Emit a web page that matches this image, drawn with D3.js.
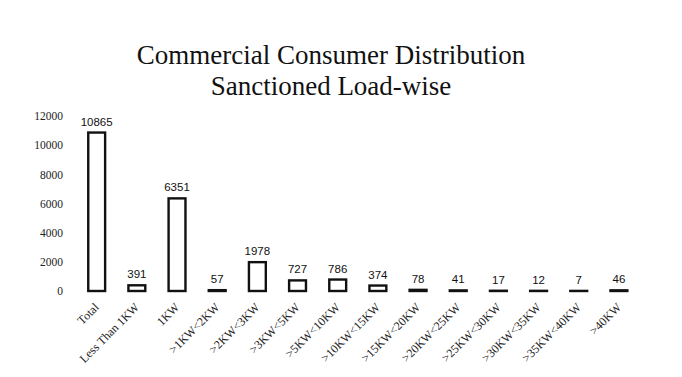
<!DOCTYPE html>
<html><head><meta charset="utf-8">
<script src="https://cdn.jsdelivr.net/npm/d3@7"></script>
<style>body{margin:0;background:#fff}svg{display:block}</style>
</head><body>
<svg id="c" width="682" height="377"></svg>
<script>
const categories = ["Total","Less Than 1KW","1KW",">1KW<2KW",">2KW<3KW",">3KW<5KW",">5KW<10KW",">10KW<15KW",">15KW<20KW",">20KW<25KW",">25KW<30KW",">30KW<35KW",">35KW<40KW",">40KW"];
const values = [10865,391,6351,57,1978,727,786,374,78,41,17,12,7,46];
const yTicks = [0,2000,4000,6000,8000,10000,12000];
const titleLines = ["Commercial Consumer Distribution","Sanctioned Load-wise"];

const svg = d3.select("#c");
const x = d3.scaleBand().domain(categories).range([76.6, 639]).paddingInner(0.58).paddingOuter(0.29);
const y = d3.scaleLinear().domain([0,12000]).range([291,116]);

svg.append("g").selectAll("text").data(titleLines).join("text")
  .attr("x",331).attr("y",(d,i)=>64+i*31).attr("text-anchor","middle")
  .attr("font-family","Liberation Serif, serif").attr("font-size",27).attr("fill","#111").text(d=>d);

const ya = svg.append("g").attr("transform","translate(67,0)")
  .call(d3.axisLeft(y).tickValues(yTicks).tickSize(0).tickPadding(4).tickFormat(d3.format("d")));
ya.select(".domain").remove();
ya.selectAll("text").attr("font-family","Liberation Serif, serif").attr("font-size",11.5).attr("fill","#222");

const xa = svg.append("g").attr("transform","translate(0,291)")
  .call(d3.axisBottom(x).tickSize(0).tickPadding(0));
xa.select(".domain").remove();
xa.selectAll("text").attr("font-family","Liberation Serif, serif").attr("font-size",12).attr("fill","#222")
  .attr("text-anchor","end").attr("dy",0).attr("transform","translate(3,17) rotate(-45)");

svg.append("g").selectAll("rect").data(values).join("rect")
  .attr("x",(d,i)=>x(categories[i])).attr("width",x.bandwidth())
  .attr("y",d=>y(d)).attr("height",d=>y(0)-y(d))
  .attr("fill","#fff").attr("stroke","#111").attr("stroke-width",2.4);

svg.append("g").selectAll("text").data(values).join("text")
  .attr("x",(d,i)=>x(categories[i])+x.bandwidth()/2).attr("y",d=>y(d)-7)
  .attr("text-anchor","middle").attr("font-family","Liberation Sans, sans-serif").attr("font-size",11.5)
  .attr("fill","#111").text(d=>d);
</script>
</body></html>
